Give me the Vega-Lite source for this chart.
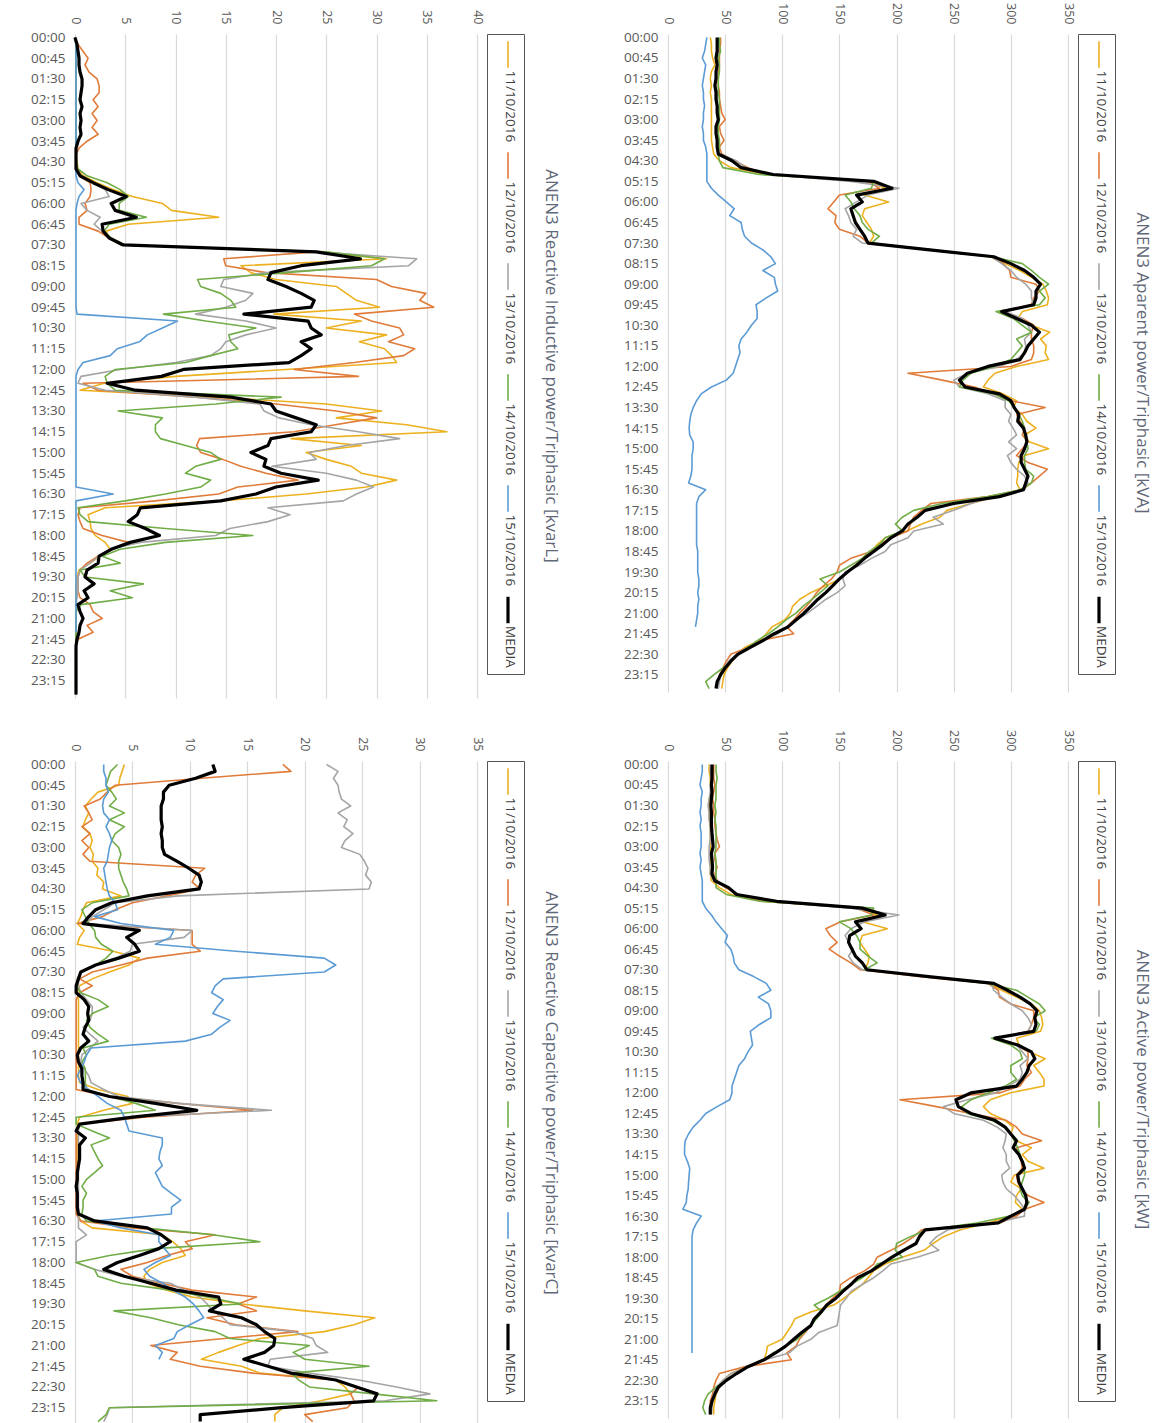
{
"$schema": "https://vega.github.io/schema/vega-lite/v6.json",
"background": "white",
"padding": {"left": 30, "top": 2, "right": 8, "bottom": 0},
"config": {
 "font": "Open Sans",
 "view": {"stroke": null},
 "axis": {"labelColor": "#595959", "labelFontSize": 12.5, "domain": false, "ticks": false, "title": null},
 "axisX": {"grid": true, "gridColor": "#d9d9d9", "gridWidth": 1.2},
 "axisY": {"grid": false, "labelFontSize": 13.5, "labelPadding": 10},
 "legend": {"orient": "right", "direction": "vertical", "symbolType": "M0,-1L0,1", "symbolSize": 700, "labelFontSize": 13.5, "labelColor": "#404040", "labelOffset": -13, "rowPadding": 8, "padding": 6, "strokeColor": "#555555", "offset": 10, "labelLimit": 0, "title": null},
 "title": {"fontSize": 17, "fontWeight": "normal", "color": "#5f6878", "offset": 17, "orient": "right", "anchor": "middle"},
 "line": {"strokeJoin": "round"}
},
"resolve": {"scale": {"color": "independent", "strokeWidth": "independent"}, "legend": {"color": "independent", "strokeWidth": "independent"}},
"spacing": {"row": 31, "column": 63},
"columns": 2,
"datasets": {
"L": [
{"t":"00:00","a":0,"b":0,"c":0,"d":0,"e":0,"m":0},
{"t":"00:15","a":0.1,"b":0.3,"c":0.1,"d":0.1,"e":0.1,"m":0.2},
{"t":"00:30","a":0.1,"b":0.8,"c":0.1,"d":0.1,"e":0.1,"m":0.3},
{"t":"00:45","a":0.1,"b":1.3,"c":0.1,"d":0.1,"e":0.1,"m":0.4},
{"t":"01:00","a":0.1,"b":1.0,"c":0.1,"d":0.1,"e":0.1,"m":0.4},
{"t":"01:15","a":0.1,"b":1.4,"c":0.1,"d":0.1,"e":0.1,"m":0.5},
{"t":"01:30","a":0.1,"b":2.2,"c":0.1,"d":0.1,"e":0.1,"m":0.7},
{"t":"01:45","a":0.1,"b":2.4,"c":0.1,"d":0.1,"e":0.1,"m":0.7},
{"t":"02:00","a":0.1,"b":2.4,"c":0.1,"d":0.1,"e":0.1,"m":0.6},
{"t":"02:15","a":0.1,"b":1.8,"c":0.1,"d":0.1,"e":0.1,"m":0.5},
{"t":"02:30","a":0.1,"b":2.3,"c":0.1,"d":0.1,"e":0.1,"m":0.7},
{"t":"02:45","a":0.1,"b":1.7,"c":0.1,"d":0.1,"e":0.1,"m":0.5},
{"t":"03:00","a":0.1,"b":2.2,"c":0.1,"d":0.1,"e":0.1,"m":0.6},
{"t":"03:15","a":0.1,"b":1.7,"c":0.1,"d":0.1,"e":0.1,"m":0.5},
{"t":"03:30","a":0.1,"b":2.3,"c":0.1,"d":0.1,"e":0.1,"m":0.6},
{"t":"03:45","a":0.1,"b":1.2,"c":0.1,"d":0.1,"e":0.1,"m":0.3},
{"t":"04:00","a":0.1,"b":0.4,"c":0.1,"d":0.1,"e":0.1,"m":0.1},
{"t":"04:15","a":0.1,"b":0.1,"c":0.1,"d":0.1,"e":0.1,"m":0.1},
{"t":"04:30","a":0.2,"b":0.1,"c":0.1,"d":0.1,"e":0.1,"m":0.1},
{"t":"04:45","a":0.3,"b":0.1,"c":0.1,"d":0.3,"e":0.1,"m":0.1},
{"t":"05:00","a":0.8,"b":0.4,"c":0.6,"d":1.2,"e":0.1,"m":0.5},
{"t":"05:15","a":2.2,"b":1.5,"c":1.8,"d":3.2,"e":0.3,"m":1.8},
{"t":"05:30","a":3.8,"b":1.6,"c":3.0,"d":4.5,"e":0.9,"m":3.3},
{"t":"05:45","a":5.7,"b":1.5,"c":3.4,"d":5.3,"e":0.4,"m":5.1},
{"t":"06:00","a":8.7,"b":1.0,"c":0.6,"d":4.4,"e":0.2,"m":3.6},
{"t":"06:15","a":9.6,"b":1.2,"c":1.2,"d":4.4,"e":0.1,"m":4.0},
{"t":"06:30","a":14.3,"b":0.4,"c":2.5,"d":7.1,"e":0.1,"m":6.1},
{"t":"06:45","a":5.3,"b":0.4,"c":1.9,"d":3.4,"e":0.1,"m":2.7},
{"t":"07:00","a":3.1,"b":2.3,"c":2.7,"d":2.9,"e":0.1,"m":2.8},
{"t":"07:15","a":3.4,"b":3.4,"c":3.4,"d":3.6,"e":0.1,"m":3.4},
{"t":"07:30","a":4.8,"b":4.6,"c":4.6,"d":5.0,"e":0.1,"m":4.8},
{"t":"07:45","a":24,"b":24,"c":24,"d":25,"e":0.1,"m":24},
{"t":"08:00","a":31,"b":14.8,"c":34,"d":30.8,"e":0.1,"m":28.4},
{"t":"08:15","a":16.5,"b":15,"c":33.2,"d":29.5,"e":0.1,"m":22.5},
{"t":"08:30","a":17.5,"b":19,"c":19,"d":21,"e":0.1,"m":19.5},
{"t":"08:45","a":20,"b":30,"c":14.8,"d":12.2,"e":0.1,"m":19.2},
{"t":"09:00","a":26,"b":31.5,"c":14.5,"d":12.5,"e":0.1,"m":21},
{"t":"09:15","a":27,"b":34.9,"c":17.7,"d":14.5,"e":0.1,"m":22.5},
{"t":"09:30","a":28,"b":34.3,"c":17,"d":15.5,"e":0.1,"m":23.8},
{"t":"09:45","a":30.3,"b":35.7,"c":15,"d":16,"e":0.1,"m":23.5},
{"t":"10:00","a":19.8,"b":27.8,"c":12,"d":8.8,"e":0.2,"m":16.8},
{"t":"10:15","a":28.5,"b":29.5,"c":17,"d":13,"e":10.2,"m":23.2},
{"t":"10:30","a":25,"b":32.3,"c":20,"d":18,"e":8.7,"m":23.5},
{"t":"10:45","a":31,"b":32.7,"c":17,"d":15.3,"e":7.2,"m":24.5},
{"t":"11:00","a":28.3,"b":31.2,"c":15,"d":15.5,"e":6.4,"m":22.5},
{"t":"11:15","a":30.8,"b":33.8,"c":14.5,"d":16.2,"e":4.2,"m":23.5},
{"t":"11:30","a":31.5,"b":32.7,"c":13.5,"d":13.5,"e":3.5,"m":22.5},
{"t":"11:45","a":32,"b":27.8,"c":10,"d":11,"e":0.8,"m":21.3},
{"t":"12:00","a":21,"b":21.8,"c":4.5,"d":4,"e":0.3,"m":10.8},
{"t":"12:15","a":10,"b":28.2,"c":0.6,"d":3,"e":0.1,"m":8.6},
{"t":"12:30","a":2.9,"b":0.8,"c":0.3,"d":3.2,"e":0.1,"m":3.2},
{"t":"12:45","a":0.5,"b":2.3,"c":3,"d":4,"e":0.1,"m":6},
{"t":"13:00","a":14,"b":12,"c":12,"d":20.5,"e":0.1,"m":15.5},
{"t":"13:15","a":25,"b":20,"c":18.4,"d":14,"e":0.1,"m":19.5},
{"t":"13:30","a":30.5,"b":26,"c":18.8,"d":4.3,"e":0.1,"m":20},
{"t":"13:45","a":26,"b":30,"c":20.3,"d":8.7,"e":0.1,"m":22},
{"t":"14:00","a":33,"b":25.9,"c":23.5,"d":8,"e":0.1,"m":24},
{"t":"14:15","a":37,"b":21.8,"c":28.2,"d":8,"e":0.1,"m":23.5},
{"t":"14:30","a":21.5,"b":12.4,"c":32.3,"d":8.5,"e":0.1,"m":19.5},
{"t":"14:45","a":28.5,"b":12.1,"c":27,"d":11,"e":0.1,"m":19.2},
{"t":"15:00","a":23,"b":12.5,"c":23.3,"d":13.5,"e":0.1,"m":17.5},
{"t":"15:15","a":25,"b":14.7,"c":24,"d":14.5,"e":0.1,"m":19},
{"t":"15:30","a":27.5,"b":16.5,"c":19.6,"d":12,"e":0.1,"m":18.8},
{"t":"15:45","a":28.5,"b":19,"c":25,"d":11,"e":0.1,"m":20.5},
{"t":"16:00","a":32,"b":22.2,"c":28,"d":13.5,"e":0.1,"m":24.2},
{"t":"16:15","a":29,"b":16.2,"c":29.7,"d":12.5,"e":0.1,"m":20},
{"t":"16:30","a":23,"b":14.3,"c":28,"d":9,"e":3.8,"m":18},
{"t":"16:45","a":14.5,"b":8,"c":26.7,"d":5,"e":0.1,"m":14.5},
{"t":"17:00","a":3,"b":0.5,"c":19.2,"d":0.3,"e":0.1,"m":6.5},
{"t":"17:15","a":1.3,"b":0.3,"c":21.4,"d":0.5,"e":0.1,"m":6.2},
{"t":"17:30","a":1.5,"b":0.5,"c":19.2,"d":1.3,"e":0.1,"m":5.3},
{"t":"17:45","a":1.6,"b":0.8,"c":15.4,"d":9,"e":0.1,"m":7},
{"t":"18:00","a":2,"b":2.7,"c":14,"d":17.7,"e":0.1,"m":8.4},
{"t":"18:15","a":3,"b":5.3,"c":6.5,"d":9,"e":0.1,"m":5.5},
{"t":"18:30","a":3.5,"b":3.8,"c":3.4,"d":4.5,"e":0.1,"m":3.6},
{"t":"18:45","a":2.5,"b":2.3,"c":2.4,"d":2.7,"e":0.1,"m":2.4},
{"t":"19:00","a":1.5,"b":1.2,"c":1.5,"d":4.5,"e":0.1,"m":2.3},
{"t":"19:15","a":0.4,"b":0.5,"c":0.5,"d":0.5,"e":0.1,"m":1.2},
{"t":"19:30","a":0.2,"b":0.3,"c":0.3,"d":1,"e":0.1,"m":1.0},
{"t":"19:45","a":0.1,"b":0.3,"c":0.3,"d":6.8,"e":0.1,"m":1.9},
{"t":"20:00","a":0.1,"b":0.3,"c":0.3,"d":3.5,"e":0.1,"m":0.9},
{"t":"20:15","a":0.1,"b":0.5,"c":0.2,"d":5.7,"e":0.1,"m":1.3},
{"t":"20:30","a":0.1,"b":1.5,"c":0.1,"d":0.6,"e":0.1,"m":0.3},
{"t":"20:45","a":0.1,"b":1.8,"c":0.1,"d":0.1,"e":0.1,"m":0.5},
{"t":"21:00","a":0.1,"b":2.7,"c":0.1,"d":0.1,"e":0.1,"m":0.8},
{"t":"21:15","a":0.1,"b":1.2,"c":0.1,"d":0.1,"e":0.1,"m":0.5},
{"t":"21:30","a":0.1,"b":1.8,"c":0.1,"d":0.1,"e":0.1,"m":0.4},
{"t":"21:45","a":0.1,"b":0.3,"c":0.1,"d":0.1,"m":0.2},
{"t":"22:00","a":0.1,"b":0.1,"c":0.1,"d":0.1,"m":0.1},
{"t":"22:15","a":0.1,"b":0.1,"c":0.1,"d":0.1,"m":0.1},
{"t":"22:30","a":0.1,"b":0.1,"c":0.1,"d":0.1,"m":0.1},
{"t":"22:45","a":0.1,"b":0.1,"c":0.1,"d":0.1,"m":0.1},
{"t":"23:00","a":0.1,"b":0.1,"c":0.1,"d":0.1,"m":0.1},
{"t":"23:15","a":0.1,"b":0.1,"c":0.1,"d":0.1,"m":0.1},
{"t":"23:30","a":0.1,"b":0.1,"c":0.1,"d":0.1,"m":0.1},
{"t":"23:45","a":0.1,"b":0.1,"c":0.1,"d":0.1,"m":0.1}
],
"A": [
{"t":"00:00","a":37,"b":46,"c":44,"d":45,"e":34,"m":43},
{"t":"00:15","a":38,"b":46,"c":44,"d":45,"e":33,"m":43},
{"t":"00:30","a":38,"b":45,"c":44,"d":46,"e":32,"m":43},
{"t":"00:45","a":39,"b":45,"c":43,"d":44,"e":30,"m":42},
{"t":"01:00","a":41,"b":45,"c":43,"d":45,"e":33,"m":43},
{"t":"01:15","a":38,"b":44,"c":43,"d":45,"e":32,"m":42},
{"t":"01:30","a":37,"b":44,"c":42,"d":44,"e":31,"m":42},
{"t":"01:45","a":38,"b":44,"c":42,"d":44,"e":30,"m":41},
{"t":"02:00","a":37,"b":45,"c":43,"d":44,"e":31,"m":42},
{"t":"02:15","a":38,"b":45,"c":43,"d":45,"e":31,"m":42},
{"t":"02:30","a":38,"b":46,"c":43,"d":45,"e":32,"m":43},
{"t":"02:45","a":38,"b":47,"c":44,"d":45,"e":31,"m":43},
{"t":"03:00","a":38,"b":50,"c":44,"d":45,"e":31,"m":44},
{"t":"03:15","a":38,"b":45,"c":43,"d":44,"e":30,"m":42},
{"t":"03:30","a":38,"b":46,"c":43,"d":44,"e":31,"m":42},
{"t":"03:45","a":38,"b":49,"c":43,"d":45,"e":31,"m":43},
{"t":"04:00","a":39,"b":45,"c":44,"d":45,"e":33,"m":43},
{"t":"04:15","a":40,"b":47,"c":45,"d":44,"e":34,"m":44},
{"t":"04:30","a":45,"b":58,"c":60,"d":45,"e":34,"m":56},
{"t":"04:45","a":55,"b":70,"c":68,"d":48,"e":34,"m":64},
{"t":"05:00","a":88,"b":85,"c":88,"d":80,"e":34,"m":92},
{"t":"05:15","a":175,"b":175,"c":160,"d":180,"e":34,"m":180},
{"t":"05:30","a":190,"b":185,"c":202,"d":178,"e":38,"m":196},
{"t":"05:45","a":172,"b":150,"c":175,"d":155,"e":44,"m":165},
{"t":"06:00","a":193,"b":145,"c":165,"d":160,"e":51,"m":170},
{"t":"06:15","a":172,"b":140,"c":155,"d":163,"e":58,"m":160},
{"t":"06:30","a":170,"b":147,"c":158,"d":168,"e":54,"m":162},
{"t":"06:45","a":174,"b":146,"c":160,"d":170,"e":64,"m":164},
{"t":"07:00","a":178,"b":150,"c":165,"d":175,"e":65,"m":168},
{"t":"07:15","a":180,"b":168,"c":162,"d":185,"e":67,"m":172},
{"t":"07:30","a":176,"b":175,"c":170,"d":178,"e":73,"m":175},
{"t":"07:45","a":230,"b":230,"c":228,"d":230,"e":83,"m":229},
{"t":"08:00","a":282,"b":287,"c":283,"d":284,"e":90,"m":285},
{"t":"08:15","a":295,"b":293,"c":292,"d":310,"e":94,"m":300},
{"t":"08:30","a":308,"b":299,"c":300,"d":318,"e":83,"m":312},
{"t":"08:45","a":318,"b":300,"c":305,"d":325,"e":93,"m":320},
{"t":"09:00","a":328,"b":322,"c":313,"d":333,"e":94,"m":326},
{"t":"09:15","a":331,"b":325,"c":318,"d":325,"e":96,"m":322},
{"t":"09:30","a":333,"b":320,"c":318,"d":330,"e":86,"m":322},
{"t":"09:45","a":332,"b":318,"c":320,"d":325,"e":77,"m":320},
{"t":"10:00","a":310,"b":290,"c":295,"d":287,"e":78,"m":292},
{"t":"10:15","a":306,"b":310,"c":310,"d":302,"e":78,"m":305},
{"t":"10:30","a":318,"b":320,"c":315,"d":310,"e":73,"m":318},
{"t":"10:45","a":334,"b":318,"c":318,"d":318,"e":69,"m":325},
{"t":"11:00","a":326,"b":318,"c":312,"d":305,"e":64,"m":320},
{"t":"11:15","a":331,"b":320,"c":313,"d":310,"e":62,"m":315},
{"t":"11:30","a":330,"b":320,"c":312,"d":305,"e":63,"m":312},
{"t":"11:45","a":333,"b":318,"c":305,"d":300,"e":61,"m":308},
{"t":"12:00","a":305,"b":300,"c":290,"d":285,"e":59,"m":280},
{"t":"12:15","a":286,"b":210,"c":262,"d":265,"e":57,"m":262},
{"t":"12:30","a":280,"b":240,"c":250,"d":258,"e":51,"m":255},
{"t":"12:45","a":276,"b":268,"c":255,"d":255,"e":38,"m":260},
{"t":"13:00","a":293,"b":285,"c":280,"d":285,"e":29,"m":290},
{"t":"13:15","a":305,"b":300,"c":295,"d":298,"e":25,"m":300},
{"t":"13:30","a":302,"b":330,"c":295,"d":303,"e":22,"m":303},
{"t":"13:45","a":310,"b":305,"c":300,"d":307,"e":20,"m":307},
{"t":"14:00","a":314,"b":308,"c":298,"d":310,"e":19,"m":306},
{"t":"14:15","a":322,"b":312,"c":302,"d":312,"e":18.5,"m":311},
{"t":"14:30","a":312,"b":310,"c":305,"d":312,"e":19,"m":313},
{"t":"14:45","a":316,"b":315,"c":298,"d":314,"e":22,"m":314},
{"t":"15:00","a":333,"b":310,"c":305,"d":315,"e":22,"m":312},
{"t":"15:15","a":312,"b":305,"c":297,"d":312,"e":21,"m":309},
{"t":"15:30","a":307,"b":315,"c":300,"d":312,"e":21,"m":309},
{"t":"15:45","a":306,"b":332,"c":305,"d":313,"e":21,"m":312},
{"t":"16:00","a":306,"b":325,"c":312,"d":320,"e":20,"m":315},
{"t":"16:15","a":305,"b":318,"c":315,"d":318,"e":18,"m":313},
{"t":"16:30","a":308,"b":310,"c":312,"d":308,"e":33,"m":311},
{"t":"16:45","a":286,"b":280,"c":285,"d":280,"e":27,"m":290},
{"t":"17:00","a":265,"b":230,"c":265,"d":240,"e":25,"m":250},
{"t":"17:15","a":244,"b":222,"c":250,"d":215,"e":25,"m":225},
{"t":"17:30","a":238,"b":215,"c":232,"d":205,"e":25,"m":218},
{"t":"17:45","a":222,"b":212,"c":241,"d":199,"e":25,"m":210},
{"t":"18:00","a":209,"b":210,"c":215,"d":205,"e":25,"m":205},
{"t":"18:15","a":190,"b":195,"c":210,"d":190,"e":25,"m":195},
{"t":"18:30","a":183,"b":185,"c":195,"d":185,"e":25,"m":188},
{"t":"18:45","a":178,"b":178,"c":190,"d":176,"e":26,"m":180},
{"t":"19:00","a":170,"b":160,"c":178,"d":170,"e":26,"m":172},
{"t":"19:15","a":164,"b":150,"c":168,"d":160,"e":26,"m":165},
{"t":"19:30","a":157,"b":148,"c":155,"d":150,"e":26,"m":157},
{"t":"19:45","a":151,"b":143,"c":153,"d":133,"e":27,"m":150},
{"t":"20:00","a":138,"b":136,"c":155,"d":140,"e":27,"m":144},
{"t":"20:15","a":125,"b":130,"c":148,"d":133,"e":26,"m":138},
{"t":"20:30","a":115,"b":126,"c":138,"d":126,"e":27,"m":131},
{"t":"20:45","a":109,"b":121,"c":130,"d":118,"e":26,"m":125},
{"t":"21:00","a":107,"b":115,"c":122,"d":112,"e":26,"m":119},
{"t":"21:15","a":102,"b":110,"c":112,"d":103,"e":25,"m":112},
{"t":"21:30","a":91,"b":104,"c":105,"d":96,"e":24,"m":105},
{"t":"21:45","a":86,"b":110,"c":96,"d":88,"m":93},
{"t":"22:00","a":80,"b":80,"c":82,"d":78,"m":83},
{"t":"22:15","a":67,"b":70,"c":70,"d":70,"m":72},
{"t":"22:30","a":61,"b":55,"c":60,"d":62,"m":61},
{"t":"22:45","a":56,"b":51,"c":53,"d":55,"m":55},
{"t":"23:00","a":52,"b":48,"c":49,"d":48,"m":50},
{"t":"23:15","a":49,"b":45,"c":46,"d":40,"m":46},
{"t":"23:30","a":48,"b":44,"c":45,"d":33,"m":43},
{"t":"23:45","a":47,"b":43,"c":44,"d":36,"m":42}
],
"C": [
{"t":"00:00","a":4.3,"b":18.1,"c":21.9,"d":3.7,"e":2.5,"m":12.0},
{"t":"00:15","a":4.1,"b":18.8,"c":22.9,"d":3.1,"e":2.5,"m":12.2},
{"t":"00:30","a":3.9,"b":11,"c":22.5,"d":2.9,"e":2.7,"m":10.5},
{"t":"00:45","a":3.8,"b":3.5,"c":22.9,"d":2.7,"e":2.7,"m":8.2},
{"t":"01:00","a":2.0,"b":2.8,"c":23,"d":3.2,"e":2.9,"m":7.7},
{"t":"01:15","a":1.4,"b":2.2,"c":23.2,"d":3.6,"e":2.5,"m":7.7},
{"t":"01:30","a":0.9,"b":0.8,"c":24,"d":3.0,"e":2.4,"m":7.5},
{"t":"01:45","a":1.2,"b":1.2,"c":22.9,"d":4.3,"e":2.5,"m":7.5},
{"t":"02:00","a":0.9,"b":1.5,"c":23.7,"d":3.0,"e":3.0,"m":7.5},
{"t":"02:15","a":0.7,"b":0.6,"c":23.4,"d":4.3,"e":2.7,"m":7.6},
{"t":"02:30","a":1.3,"b":1.3,"c":24.2,"d":3.5,"e":3.0,"m":7.5},
{"t":"02:45","a":1.5,"b":0.6,"c":23.5,"d":3.2,"e":3.2,"m":7.6},
{"t":"03:00","a":1.3,"b":1.2,"c":23.2,"d":3.8,"e":3.0,"m":7.6},
{"t":"03:15","a":1.6,"b":0.7,"c":24.8,"d":4.0,"e":2.9,"m":7.8},
{"t":"03:30","a":1.5,"b":1.3,"c":25.2,"d":3.8,"e":2.8,"m":8.9},
{"t":"03:45","a":2.0,"b":11.3,"c":25.5,"d":3.8,"e":2.5,"m":9.9},
{"t":"04:00","a":1.9,"b":10.5,"c":25.3,"d":4.0,"e":2.6,"m":10.8},
{"t":"04:15","a":2.5,"b":10.2,"c":25.8,"d":4.2,"e":2.7,"m":11.0},
{"t":"04:30","a":2.4,"b":10.9,"c":25.6,"d":4.5,"e":2.8,"m":10.8},
{"t":"04:45","a":4.0,"b":8.0,"c":9.0,"d":4.7,"e":3.0,"m":6.3},
{"t":"05:00","a":1.0,"b":5.0,"c":3.5,"d":1.5,"e":3.5,"m":3.2},
{"t":"05:15","a":0.7,"b":3.5,"c":2.5,"d":0.6,"e":3.7,"m":1.8},
{"t":"05:30","a":0.5,"b":2.4,"c":1.5,"d":0.9,"e":1.7,"m":1.2},
{"t":"05:45","a":0.2,"b":0.2,"c":1.0,"d":1.2,"e":4.0,"m":0.7},
{"t":"06:00","a":0.8,"b":10.2,"c":10.2,"d":1.7,"e":8.6,"m":5.6},
{"t":"06:15","a":0.4,"b":10.2,"c":9.5,"d":1.8,"e":8.3,"m":4.5},
{"t":"06:30","a":0.2,"b":10.2,"c":5.0,"d":2.3,"e":7.0,"m":5.2},
{"t":"06:45","a":3.3,"b":10.9,"c":4.8,"d":3.3,"e":14,"m":5.6},
{"t":"07:00","a":5.6,"b":6.3,"c":3.5,"d":2.7,"e":21.7,"m":3.8},
{"t":"07:15","a":4.7,"b":4.0,"c":1.8,"d":1.8,"e":22.7,"m":1.8},
{"t":"07:30","a":3.0,"b":1.5,"c":0.5,"d":0.5,"e":21.7,"m":0.5},
{"t":"07:45","a":1.5,"b":0.4,"c":0.3,"d":0.2,"e":12.9,"m":0.3},
{"t":"08:00","a":0.4,"b":1.5,"c":0.3,"d":0.1,"e":12.2,"m":0.1},
{"t":"08:15","a":0.2,"b":0.4,"c":0.5,"d":0.5,"e":11.9,"m":0.1},
{"t":"08:30","a":0.3,"b":0.1,"c":1.0,"d":2.0,"e":12.9,"m":0.8},
{"t":"08:45","a":0.3,"b":0.1,"c":1.5,"d":2.9,"e":12.4,"m":1.2},
{"t":"09:00","a":0.3,"b":0.1,"c":1.5,"d":1.5,"e":12.0,"m":1.1},
{"t":"09:15","a":0.3,"b":0.1,"c":1.3,"d":1.0,"e":13.5,"m":1.2},
{"t":"09:30","a":0.3,"b":0.1,"c":0.7,"d":1.3,"e":12.6,"m":0.9},
{"t":"09:45","a":0.3,"b":0.1,"c":1.3,"d":2.0,"e":11.9,"m":0.7},
{"t":"10:00","a":0.3,"b":0.1,"c":2.0,"d":2.9,"e":9.6,"m":1.2},
{"t":"10:15","a":0.3,"b":0.1,"c":1.3,"d":0.7,"e":1.4,"m":0.5},
{"t":"10:30","a":0.3,"b":0.1,"c":0.6,"d":1.0,"e":1.0,"m":0.2},
{"t":"10:45","a":0.3,"b":0.1,"c":0.5,"d":0.6,"e":0.8,"m":0.3},
{"t":"11:00","a":0.3,"b":0.1,"c":0.8,"d":0.9,"e":0.5,"m":0.6},
{"t":"11:15","a":0.3,"b":0.1,"c":1.2,"d":0.9,"e":0.2,"m":0.6},
{"t":"11:30","a":0.4,"b":0.1,"c":1.4,"d":0.9,"e":0.5,"m":0.7},
{"t":"11:45","a":2.0,"b":0.1,"c":2.5,"d":1.0,"e":1.2,"m":0.7},
{"t":"12:00","a":4.6,"b":3.0,"c":3.8,"d":3.0,"e":2.0,"m":3.0},
{"t":"12:15","a":5.0,"b":9.0,"c":9.0,"d":5.3,"e":2.8,"m":7.0},
{"t":"12:30","a":2.5,"b":15.5,"c":17.1,"d":7.0,"e":4.0,"m":10.6},
{"t":"12:45","a":0.4,"b":6.0,"c":4.6,"d":0.1,"e":4.3,"m":5.0},
{"t":"13:00","a":0.2,"b":0.4,"c":0.4,"d":0.1,"e":4.5,"m":0.4},
{"t":"13:15","a":0.2,"b":0.1,"c":0.3,"d":1.5,"e":4.7,"m":0.1},
{"t":"13:30","a":0.2,"b":0.1,"c":0.3,"d":3.0,"e":7.6,"m":0.9},
{"t":"13:45","a":0.2,"b":0.1,"c":0.3,"d":1.4,"e":7.6,"m":0.4},
{"t":"14:00","a":0.2,"b":0.1,"c":0.3,"d":1.7,"e":7.4,"m":0.4},
{"t":"14:15","a":0.2,"b":0.1,"c":0.3,"d":2.0,"e":7.3,"m":0.4},
{"t":"14:30","a":0.2,"b":0.1,"c":0.3,"d":2.4,"e":7.6,"m":0.3},
{"t":"14:45","a":0.2,"b":0.1,"c":0.3,"d":1.7,"e":7.0,"m":0.2},
{"t":"15:00","a":0.2,"b":0.1,"c":0.3,"d":1.0,"e":7.3,"m":0.2},
{"t":"15:15","a":0.2,"b":0.1,"c":0.3,"d":0.6,"e":7.6,"m":0.1},
{"t":"15:30","a":0.2,"b":0.1,"c":0.3,"d":1.0,"e":8.4,"m":0.2},
{"t":"15:45","a":0.2,"b":0.1,"c":0.3,"d":0.7,"e":9.2,"m":0.2},
{"t":"16:00","a":0.2,"b":0.1,"c":0.3,"d":0.7,"e":8.4,"m":0.2},
{"t":"16:15","a":0.2,"b":0.1,"c":0.3,"d":0.6,"e":8.4,"m":0.3},
{"t":"16:30","a":0.5,"b":0.5,"c":0.3,"d":1.0,"e":1.7,"m":1.7},
{"t":"16:45","a":1.5,"b":5.0,"c":0.3,"d":6.0,"e":4.0,"m":6.3},
{"t":"17:00","a":7.6,"b":12.2,"c":1.0,"d":12.0,"e":7.3,"m":7.5},
{"t":"17:15","a":8.5,"b":9.6,"c":0.1,"d":16.1,"e":7.3,"m":8.3},
{"t":"17:30","a":9.2,"b":10.2,"c":0.1,"d":7.0,"e":7.8,"m":7.3},
{"t":"17:45","a":9.6,"b":8.0,"c":0.1,"d":3.0,"e":8.3,"m":5.6},
{"t":"18:00","a":7.6,"b":6.3,"c":0.1,"d":0.1,"e":7.0,"m":3.7},
{"t":"18:15","a":6.5,"b":4.0,"c":1.7,"d":1.7,"e":6.0,"m":2.5},
{"t":"18:30","a":6.0,"b":5.0,"c":4.0,"d":2.0,"e":6.5,"m":4.3},
{"t":"18:45","a":6.3,"b":7.5,"c":8.3,"d":4.0,"e":7.6,"m":6.6},
{"t":"19:00","a":8.0,"b":10.2,"c":9.5,"d":8.3,"e":8.5,"m":8.8},
{"t":"19:15","a":10.2,"b":15.8,"c":10.9,"d":11.5,"e":9.6,"m":12.5},
{"t":"19:30","a":14.5,"b":14.2,"c":11.5,"d":14.5,"e":10.3,"m":12.7},
{"t":"19:45","a":20.0,"b":15.8,"c":12.0,"d":3.4,"e":10.8,"m":11.7},
{"t":"20:00","a":26.1,"b":11.5,"c":12.9,"d":6.6,"e":11.2,"m":14.5},
{"t":"20:15","a":24.3,"b":14.0,"c":13.5,"d":9.0,"e":10.0,"m":15.8},
{"t":"20:30","a":21.7,"b":19.4,"c":19.0,"d":12.2,"e":8.9,"m":16.5},
{"t":"20:45","a":16.1,"b":13.0,"c":20.7,"d":13.5,"e":8.6,"m":17.4},
{"t":"21:00","a":14.2,"b":6.6,"c":21.0,"d":20.4,"e":7.0,"m":17.3},
{"t":"21:15","a":12.5,"b":8.9,"c":22.0,"d":19.0,"e":7.6,"m":16.5},
{"t":"21:30","a":11.0,"b":8.3,"c":17.0,"d":20.0,"e":7.3,"m":14.7},
{"t":"21:45","a":14.5,"b":10.9,"c":16.8,"d":25.6,"m":16.8},
{"t":"22:00","a":16.1,"b":15.5,"c":20.4,"d":18.8,"m":18.8},
{"t":"22:15","a":22.7,"b":22.7,"c":24.7,"d":19.5,"m":22.7},
{"t":"22:30","a":23.5,"b":24.7,"c":28.0,"d":20.4,"m":24.5},
{"t":"22:45","a":24.0,"b":24.0,"c":30.9,"d":26.0,"m":26.3},
{"t":"23:00","a":21.4,"b":24.3,"c":27.0,"d":31.5,"m":26.0},
{"t":"23:15","a":18.1,"b":23.7,"c":3.0,"d":3.0,"m":18.0},
{"t":"23:30","a":17.4,"b":20.0,"c":2.8,"d":2.7,"m":10.9},
{"t":"23:45","a":17.4,"b":20.7,"c":2.5,"d":2.0,"m":10.9}
],
"P": [
{"t":"00:00","a":36,"b":40,"c":37,"d":42,"e":30,"m":38.6},
{"t":"00:15","a":36,"b":40,"c":37,"d":42,"e":30,"m":38.5},
{"t":"00:30","a":37,"b":40,"c":38,"d":43,"e":29,"m":38.5},
{"t":"00:45","a":37,"b":41,"c":37,"d":42,"e":28,"m":38},
{"t":"01:00","a":38,"b":40,"c":37,"d":42,"e":30,"m":38.5},
{"t":"01:15","a":36,"b":39,"c":36,"d":42,"e":29,"m":38},
{"t":"01:30","a":36,"b":40,"c":35,"d":41,"e":29,"m":37.5},
{"t":"01:45","a":36,"b":40,"c":36,"d":42,"e":28,"m":38},
{"t":"02:00","a":36,"b":41,"c":36,"d":41,"e":29,"m":38},
{"t":"02:15","a":37,"b":41,"c":37,"d":42,"e":28,"m":38},
{"t":"02:30","a":37,"b":42,"c":37,"d":42,"e":29,"m":38.5},
{"t":"02:45","a":37,"b":43,"c":37,"d":42,"e":29,"m":39},
{"t":"03:00","a":37,"b":45,"c":36,"d":42,"e":29,"m":39.5},
{"t":"03:15","a":37,"b":41,"c":36,"d":41,"e":28,"m":38},
{"t":"03:30","a":37,"b":41,"c":36,"d":42,"e":29,"m":38.5},
{"t":"03:45","a":37,"b":43,"c":37,"d":42,"e":28,"m":39},
{"t":"04:00","a":37,"b":41,"c":37,"d":42,"e":29,"m":38.5},
{"t":"04:15","a":38,"b":43,"c":40,"d":42,"e":30,"m":41},
{"t":"04:30","a":45,"b":50,"c":52,"d":42,"e":30,"m":53},
{"t":"04:45","a":55,"b":62,"c":62,"d":51,"e":30,"m":60},
{"t":"05:00","a":85,"b":82,"c":88,"d":80,"e":30,"m":95},
{"t":"05:15","a":170,"b":165,"c":160,"d":180,"e":33,"m":170},
{"t":"05:30","a":183,"b":180,"c":202,"d":178,"e":38,"m":190},
{"t":"05:45","a":170,"b":151,"c":172,"d":150,"e":42,"m":164},
{"t":"06:00","a":192,"b":138,"c":160,"d":160,"e":47,"m":169},
{"t":"06:15","a":170,"b":142,"c":155,"d":165,"e":52,"m":159},
{"t":"06:30","a":168,"b":148,"c":158,"d":168,"e":50,"m":158},
{"t":"06:45","a":172,"b":141,"c":162,"d":168,"e":55,"m":161},
{"t":"07:00","a":176,"b":150,"c":158,"d":175,"e":57,"m":164},
{"t":"07:15","a":175,"b":160,"c":162,"d":183,"e":58,"m":170},
{"t":"07:30","a":172,"b":168,"c":170,"d":172,"e":62,"m":174},
{"t":"07:45","a":228,"b":220,"c":226,"d":228,"e":75,"m":228},
{"t":"08:00","a":282,"b":280,"c":283,"d":280,"e":86,"m":285},
{"t":"08:15","a":292,"b":289,"c":285,"d":305,"e":90,"m":297},
{"t":"08:30","a":305,"b":290,"c":292,"d":315,"e":79,"m":308},
{"t":"08:45","a":318,"b":300,"c":300,"d":325,"e":88,"m":317},
{"t":"09:00","a":325,"b":320,"c":310,"d":330,"e":90,"m":323},
{"t":"09:15","a":327,"b":320,"c":315,"d":320,"e":90,"m":321},
{"t":"09:30","a":328,"b":318,"c":318,"d":325,"e":80,"m":322},
{"t":"09:45","a":326,"b":315,"c":315,"d":322,"e":72,"m":320},
{"t":"10:00","a":305,"b":288,"c":290,"d":283,"e":73,"m":286},
{"t":"10:15","a":307,"b":305,"c":305,"d":300,"e":74,"m":306},
{"t":"10:30","a":316,"b":315,"c":310,"d":308,"e":70,"m":318},
{"t":"10:45","a":330,"b":315,"c":315,"d":310,"e":67,"m":321},
{"t":"11:00","a":320,"b":314,"c":308,"d":300,"e":62,"m":316},
{"t":"11:15","a":325,"b":318,"c":310,"d":300,"e":60,"m":314},
{"t":"11:30","a":329,"b":312,"c":308,"d":305,"e":58,"m":310},
{"t":"11:45","a":329,"b":308,"c":298,"d":295,"e":56,"m":305},
{"t":"12:00","a":299,"b":290,"c":286,"d":280,"e":56,"m":265},
{"t":"12:15","a":282,"b":203,"c":262,"d":265,"e":54,"m":252},
{"t":"12:30","a":276,"b":235,"c":241,"d":257,"e":43,"m":254},
{"t":"12:45","a":282,"b":265,"c":250,"d":262,"e":33,"m":265},
{"t":"13:00","a":295,"b":296,"c":276,"d":283,"e":28,"m":286},
{"t":"13:15","a":302,"b":305,"c":288,"d":295,"e":22,"m":295},
{"t":"13:30","a":300,"b":310,"c":296,"d":300,"e":18,"m":300},
{"t":"13:45","a":305,"b":327,"c":295,"d":303,"e":15,"m":305},
{"t":"14:00","a":318,"b":305,"c":293,"d":306,"e":14.5,"m":302},
{"t":"14:15","a":310,"b":307,"c":296,"d":308,"e":14.5,"m":307},
{"t":"14:30","a":315,"b":309,"c":296,"d":310,"e":17,"m":310},
{"t":"14:45","a":329,"b":310,"c":299,"d":312,"e":19,"m":312},
{"t":"15:00","a":303,"b":305,"c":292,"d":312,"e":18.5,"m":306},
{"t":"15:15","a":300,"b":306,"c":293,"d":310,"e":18,"m":307},
{"t":"15:30","a":309,"b":309,"c":296,"d":308,"e":17.7,"m":310},
{"t":"15:45","a":305,"b":315,"c":303,"d":310,"e":16.5,"m":313},
{"t":"16:00","a":304,"b":329,"c":308,"d":316,"e":16,"m":314},
{"t":"16:15","a":310,"b":312,"c":312,"d":312,"e":13,"m":312},
{"t":"16:30","a":300,"b":305,"c":312,"d":299,"e":29,"m":300},
{"t":"16:45","a":280,"b":290,"c":285,"d":270,"e":25,"m":289},
{"t":"17:00","a":256,"b":222,"c":245,"d":227,"e":22,"m":225},
{"t":"17:15","a":241,"b":215,"c":235,"d":212,"e":21,"m":220},
{"t":"17:30","a":232,"b":206,"c":229,"d":200,"e":21,"m":217},
{"t":"17:45","a":224,"b":195,"c":237,"d":199,"e":21,"m":206},
{"t":"18:00","a":205,"b":183,"c":218,"d":205,"e":21,"m":196},
{"t":"18:15","a":190,"b":180,"c":195,"d":183,"e":21,"m":187},
{"t":"18:30","a":180,"b":172,"c":188,"d":178,"e":21,"m":178},
{"t":"18:45","a":175,"b":160,"c":180,"d":170,"e":21,"m":166},
{"t":"19:00","a":170,"b":151,"c":170,"d":160,"e":21,"m":160},
{"t":"19:15","a":162,"b":150,"c":160,"d":150,"e":21,"m":153},
{"t":"19:30","a":154,"b":144,"c":156,"d":140,"e":21,"m":147},
{"t":"19:45","a":145,"b":138,"c":151,"d":128,"e":21,"m":139},
{"t":"20:00","a":125,"b":133,"c":150,"d":135,"e":21,"m":134},
{"t":"20:15","a":111,"b":128,"c":149,"d":130,"e":21,"m":128},
{"t":"20:30","a":108,"b":125,"c":148,"d":125,"e":21,"m":125},
{"t":"20:45","a":104,"b":120,"c":132,"d":119,"e":21,"m":117},
{"t":"21:00","a":100,"b":115,"c":125,"d":113,"e":21,"m":110},
{"t":"21:15","a":87,"b":112,"c":113,"d":103,"e":21,"m":103},
{"t":"21:30","a":86,"b":104,"c":106,"d":92,"e":21,"m":94},
{"t":"21:45","a":84,"b":108,"c":85,"d":84,"m":84},
{"t":"22:00","a":68,"b":67,"c":70,"d":70,"m":70},
{"t":"22:15","a":55,"b":45,"c":55,"d":60,"m":60},
{"t":"22:30","a":48,"b":42,"c":48,"d":51,"m":51},
{"t":"22:45","a":45,"b":40,"c":42,"d":42,"m":44},
{"t":"23:00","a":42,"b":39,"c":40,"d":35,"m":41},
{"t":"23:15","a":41,"b":37,"c":39,"d":32,"m":38.6},
{"t":"23:30","a":40,"b":37,"c":38.6,"d":30.5,"m":37},
{"t":"23:45","a":40,"b":37,"c":38,"d":33,"m":37}
]
},
"concat": [
{
 "width": 402, "height": 664,
 "data": {"name": "L"},
 "transform": [{"fold": ["a","b","c","d","e","m"], "as": ["s","v"]}],
 "mark": {"type": "line", "strokeJoin": "round"},
 "encoding": {
  "y": {"field": "t", "type": "ordinal", "sort": null, "scale": {"type": "point", "padding": 0.5}, "title": null,
        "axis": {"values": ["00:00","00:45","01:30","02:15","03:00","03:45","04:30","05:15","06:00","06:45","07:30","08:15","09:00","09:45","10:30","11:15","12:00","12:45","13:30","14:15","15:00","15:45","16:30","17:15","18:00","18:45","19:30","20:15","21:00","21:45","22:30","23:15"]}},
  "x": {"field": "v", "type": "quantitative", "scale": {"domain": [0, 40], "nice": false}, "title": null,
        "axis": {"orient": "top", "values": [0,5,10,15,20,25,30,35,40], "labelAngle": 90, "labelAlign": "right", "labelBaseline": "middle", "labelPadding": 10}},
  "color": {"field": "s", "type": "nominal", "scale": {"domain": ["a","b","c","d","e","m"], "range": ["#EDB120","#E07B39","#A5A5A5","#70AD47","#5B9BD5","#000000"]},
        "legend": {"labelExpr": "datum.label=='a'?'11/10/2016':datum.label=='b'?'12/10/2016':datum.label=='c'?'13/10/2016':datum.label=='d'?'14/10/2016':datum.label=='e'?'15/10/2016':'MEDIA'", "encoding": {"labels": {"angle": {"value": 90}, "dx": {"value": 16}, "align": {"value": "left"}, "baseline": {"value": "middle"}}}}},
  "strokeWidth": {"field": "s", "type": "nominal", "scale": {"type": "ordinal", "domain": ["a","b","c","d","e","m"], "range": [1.6,1.6,1.6,1.6,1.6,3.2]},
        "legend": {"labelExpr": "datum.label=='a'?'11/10/2016':datum.label=='b'?'12/10/2016':datum.label=='c'?'13/10/2016':datum.label=='d'?'14/10/2016':datum.label=='e'?'15/10/2016':'MEDIA'", "encoding": {"labels": {"angle": {"value": 90}, "dx": {"value": 16}, "align": {"value": "left"}, "baseline": {"value": "middle"}}}}}
 },
 "title": {"text": "ANEN3 Reactive Inductive power/Triphasic [kvarL]"}
},
{
 "width": 400, "height": 658,
 "data": {"name": "A"},
 "transform": [{"fold": ["a","b","c","d","e","m"], "as": ["s","v"]}],
 "mark": {"type": "line", "strokeJoin": "round"},
 "encoding": {
  "y": {"field": "t", "type": "ordinal", "sort": null, "scale": {"type": "point", "padding": 0.5}, "title": null,
        "axis": {"values": ["00:00","00:45","01:30","02:15","03:00","03:45","04:30","05:15","06:00","06:45","07:30","08:15","09:00","09:45","10:30","11:15","12:00","12:45","13:30","14:15","15:00","15:45","16:30","17:15","18:00","18:45","19:30","20:15","21:00","21:45","22:30","23:15"]}},
  "x": {"field": "v", "type": "quantitative", "scale": {"domain": [0, 350], "nice": false}, "title": null,
        "axis": {"orient": "top", "values": [0,50,100,150,200,250,300,350], "labelAngle": 90, "labelAlign": "right", "labelBaseline": "middle", "labelPadding": 10}},
  "color": {"field": "s", "type": "nominal", "scale": {"domain": ["a","b","c","d","e","m"], "range": ["#EDB120","#E07B39","#A5A5A5","#70AD47","#5B9BD5","#000000"]},
        "legend": {"labelExpr": "datum.label=='a'?'11/10/2016':datum.label=='b'?'12/10/2016':datum.label=='c'?'13/10/2016':datum.label=='d'?'14/10/2016':datum.label=='e'?'15/10/2016':'MEDIA'", "encoding": {"labels": {"angle": {"value": 90}, "dx": {"value": 16}, "align": {"value": "left"}, "baseline": {"value": "middle"}}}}},
  "strokeWidth": {"field": "s", "type": "nominal", "scale": {"type": "ordinal", "domain": ["a","b","c","d","e","m"], "range": [1.6,1.6,1.6,1.6,1.6,3.2]},
        "legend": {"labelExpr": "datum.label=='a'?'11/10/2016':datum.label=='b'?'12/10/2016':datum.label=='c'?'13/10/2016':datum.label=='d'?'14/10/2016':datum.label=='e'?'15/10/2016':'MEDIA'", "encoding": {"labels": {"angle": {"value": 90}, "dx": {"value": 16}, "align": {"value": "left"}, "baseline": {"value": "middle"}}}}}
 },
 "title": {"text": "ANEN3 Aparent power/Triphasic [kVA]"}
},
{
 "width": 402, "height": 664,
 "data": {"name": "C"},
 "transform": [{"fold": ["a","b","c","d","e","m"], "as": ["s","v"]}],
 "mark": {"type": "line", "strokeJoin": "round"},
 "encoding": {
  "y": {"field": "t", "type": "ordinal", "sort": null, "scale": {"type": "point", "padding": 0.5}, "title": null,
        "axis": {"values": ["00:00","00:45","01:30","02:15","03:00","03:45","04:30","05:15","06:00","06:45","07:30","08:15","09:00","09:45","10:30","11:15","12:00","12:45","13:30","14:15","15:00","15:45","16:30","17:15","18:00","18:45","19:30","20:15","21:00","21:45","22:30","23:15"]}},
  "x": {"field": "v", "type": "quantitative", "scale": {"domain": [0, 35], "nice": false}, "title": null,
        "axis": {"orient": "top", "values": [0,5,10,15,20,25,30,35], "labelAngle": 90, "labelAlign": "right", "labelBaseline": "middle", "labelPadding": 10}},
  "color": {"field": "s", "type": "nominal", "scale": {"domain": ["a","b","c","d","e","m"], "range": ["#EDB120","#E07B39","#A5A5A5","#70AD47","#5B9BD5","#000000"]},
        "legend": {"labelExpr": "datum.label=='a'?'11/10/2016':datum.label=='b'?'12/10/2016':datum.label=='c'?'13/10/2016':datum.label=='d'?'14/10/2016':datum.label=='e'?'15/10/2016':'MEDIA'", "encoding": {"labels": {"angle": {"value": 90}, "dx": {"value": 16}, "align": {"value": "left"}, "baseline": {"value": "middle"}}}}},
  "strokeWidth": {"field": "s", "type": "nominal", "scale": {"type": "ordinal", "domain": ["a","b","c","d","e","m"], "range": [1.6,1.6,1.6,1.6,1.6,3.2]},
        "legend": {"labelExpr": "datum.label=='a'?'11/10/2016':datum.label=='b'?'12/10/2016':datum.label=='c'?'13/10/2016':datum.label=='d'?'14/10/2016':datum.label=='e'?'15/10/2016':'MEDIA'", "encoding": {"labels": {"angle": {"value": 90}, "dx": {"value": 16}, "align": {"value": "left"}, "baseline": {"value": "middle"}}}}}
 },
 "title": {"text": "ANEN3 Reactive Capacitive power/Triphasic [kvarC]"}
},
{
 "width": 400, "height": 657,
 "data": {"name": "P"},
 "transform": [{"fold": ["a","b","c","d","e","m"], "as": ["s","v"]}],
 "mark": {"type": "line", "strokeJoin": "round"},
 "encoding": {
  "y": {"field": "t", "type": "ordinal", "sort": null, "scale": {"type": "point", "padding": 0.5}, "title": null,
        "axis": {"values": ["00:00","00:45","01:30","02:15","03:00","03:45","04:30","05:15","06:00","06:45","07:30","08:15","09:00","09:45","10:30","11:15","12:00","12:45","13:30","14:15","15:00","15:45","16:30","17:15","18:00","18:45","19:30","20:15","21:00","21:45","22:30","23:15"]}},
  "x": {"field": "v", "type": "quantitative", "scale": {"domain": [0, 350], "nice": false}, "title": null,
        "axis": {"orient": "top", "values": [0,50,100,150,200,250,300,350], "labelAngle": 90, "labelAlign": "right", "labelBaseline": "middle", "labelPadding": 10}},
  "color": {"field": "s", "type": "nominal", "scale": {"domain": ["a","b","c","d","e","m"], "range": ["#EDB120","#E07B39","#A5A5A5","#70AD47","#5B9BD5","#000000"]},
        "legend": {"labelExpr": "datum.label=='a'?'11/10/2016':datum.label=='b'?'12/10/2016':datum.label=='c'?'13/10/2016':datum.label=='d'?'14/10/2016':datum.label=='e'?'15/10/2016':'MEDIA'", "encoding": {"labels": {"angle": {"value": 90}, "dx": {"value": 16}, "align": {"value": "left"}, "baseline": {"value": "middle"}}}}},
  "strokeWidth": {"field": "s", "type": "nominal", "scale": {"type": "ordinal", "domain": ["a","b","c","d","e","m"], "range": [1.6,1.6,1.6,1.6,1.6,3.2]},
        "legend": {"labelExpr": "datum.label=='a'?'11/10/2016':datum.label=='b'?'12/10/2016':datum.label=='c'?'13/10/2016':datum.label=='d'?'14/10/2016':datum.label=='e'?'15/10/2016':'MEDIA'", "encoding": {"labels": {"angle": {"value": 90}, "dx": {"value": 16}, "align": {"value": "left"}, "baseline": {"value": "middle"}}}}}
 },
 "title": {"text": "ANEN3 Active power/Triphasic [kW]"}
}
]
}
